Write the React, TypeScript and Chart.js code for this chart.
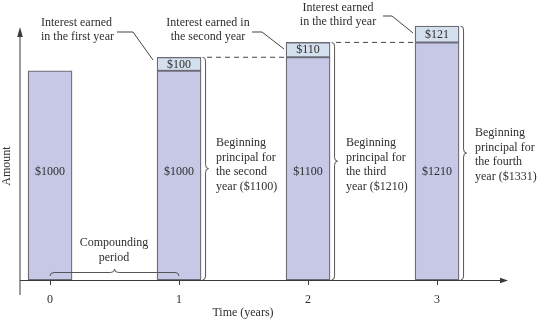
import React, { useEffect, useRef } from "react";
import { Chart, registerables } from "chart.js";

Chart.register(...registerables);

// ---- data ----
const years = [0, 1, 2, 3];
const principal = [1000, 1000, 1100, 1210];
const interest = [0, 100, 110, 121];
const xTicks = [0, 1, 2, 3];
const xAxisTitle = "Time (years)";
const yAxisTitle = "Amount";
const interestNotes = [
  ["Interest earned", "in the first year"],
  ["Interest earned in", "the second year"],
  ["Interest earned", "in the third year"],
];
const principalNotes = [
  ["Beginning", "principal for", "the second", "year ($1100)"],
  ["Beginning", "principal for", "the third", "year ($1210)"],
  ["Beginning", "principal for", "the fourth", "year ($1331)"],
];
const periodNote = ["Compounding", "period"];

// ---- scale / style constants ----
const Y_MIN = -550;
const Y_MAX = 1376;
const X_MIN = -0.233;
const X_MAX = 3.55;
const LABEL_VALUE = 250;
const FONT = '"Liberation Serif", "Times New Roman", serif';
const TEXT = "#2e2e2e";
const AXIS = "#3a3a3a";
const PRINCIPAL_FILL = "#c6c8e6";
const INTEREST_FILL = "#d5e0ef";
const BAR_BORDER = "#6c6c78";

function vBrace(ctx: CanvasRenderingContext2D, x: number, y1: number, y2: number, d: number) {
  const ym = (y1 + y2) / 2;
  const r = 4;
  const h = d / 2;
  ctx.beginPath();
  ctx.moveTo(x, y1);
  ctx.quadraticCurveTo(x + h, y1, x + h, y1 + r);
  ctx.lineTo(x + h, ym - r);
  ctx.quadraticCurveTo(x + h, ym, x + d, ym);
  ctx.quadraticCurveTo(x + h, ym, x + h, ym + r);
  ctx.lineTo(x + h, y2 - r);
  ctx.quadraticCurveTo(x + h, y2, x, y2);
  ctx.stroke();
}

function hBraceUp(ctx: CanvasRenderingContext2D, x1: number, x2: number, yb: number, d: number) {
  const xm = (x1 + x2) / 2;
  const r = 4;
  const h = d / 2;
  ctx.beginPath();
  ctx.moveTo(x1, yb);
  ctx.quadraticCurveTo(x1, yb - h, x1 + r, yb - h);
  ctx.lineTo(xm - r, yb - h);
  ctx.quadraticCurveTo(xm, yb - h, xm, yb - d);
  ctx.quadraticCurveTo(xm, yb - h, xm + r, yb - h);
  ctx.lineTo(x2 - r, yb - h);
  ctx.quadraticCurveTo(x2, yb - h, x2, yb);
  ctx.stroke();
}

const annotationPlugin = {
  id: "annotations",
  afterDatasetsDraw(chart: any) {
    const ctx: CanvasRenderingContext2D = chart.ctx;
    const area = chart.chartArea;
    const xs = chart.scales.x;
    const ys = chart.scales.y;
    const meta0 = chart.getDatasetMeta(0);
    const half = 22;
    ctx.save();

    // axes
    ctx.strokeStyle = AXIS;
    ctx.fillStyle = AXIS;
    ctx.lineWidth = 1;
    ctx.beginPath();
    ctx.moveTo(area.left, area.bottom + 15);
    ctx.lineTo(area.left, 34);
    ctx.moveTo(area.left, area.bottom + 0.5);
    ctx.lineTo(area.right - 5, area.bottom + 0.5);
    ctx.stroke();
    ctx.beginPath();
    ctx.moveTo(area.left, 27);
    ctx.lineTo(area.left - 2.8, 37);
    ctx.lineTo(area.left + 2.8, 37);
    ctx.closePath();
    ctx.fill();
    ctx.beginPath();
    ctx.moveTo(area.right, area.bottom + 0.5);
    ctx.lineTo(area.right - 8, area.bottom + 0.5 - 2.8);
    ctx.lineTo(area.right - 8, area.bottom + 0.5 + 2.8);
    ctx.closePath();
    ctx.fill();

    // bar value labels
    ctx.font = `12px ${FONT}`;
    ctx.fillStyle = TEXT;
    ctx.textAlign = "center";
    ctx.textBaseline = "middle";
    years.forEach((yr, i) => {
      const bx = meta0.data[i].x;
      ctx.fillText(`$${principal[i]}`, bx, ys.getPixelForValue(LABEL_VALUE));
      if (interest[i] > 0) {
        const yc = ys.getPixelForValue(principal[i] + interest[i] / 2);
        ctx.fillText(`$${interest[i]}`, bx, yc + 0.5);
      }
    });

    // dashed connectors
    ctx.strokeStyle = "#444";
    ctx.setLineDash([5, 4]);
    for (let i = 1; i < years.length - 1; i++) {
      const y = ys.getPixelForValue(principal[i] + interest[i]);
      const x1 = meta0.data[i].x + half + 6;
      const x2 = meta0.data[i + 1].x - half;
      ctx.beginPath();
      ctx.moveTo(x1, y);
      ctx.lineTo(x2, y);
      ctx.stroke();
    }
    ctx.setLineDash([]);

    // right braces
    ctx.strokeStyle = "#555";
    ctx.lineWidth = 1;
    for (let i = 1; i < years.length; i++) {
      const top = ys.getPixelForValue(principal[i] + interest[i]);
      const x = meta0.data[i].x + half + 1.5;
      vBrace(ctx, x, top, area.bottom, 6);
    }

    // compounding brace
    hBraceUp(ctx, xs.getPixelForValue(0), xs.getPixelForValue(1), 276, 7);

    // notes
    ctx.fillStyle = TEXT;
    ctx.font = `12px ${FONT}`;
    ctx.textBaseline = "middle";

    // interest notes
    ctx.textAlign = "left";
    ctx.fillText(interestNotes[0][0], 41, 23);
    ctx.fillText(interestNotes[0][1], 41, 37);
    ctx.textAlign = "center";
    ctx.fillText(interestNotes[1][0], 208, 23);
    ctx.fillText(interestNotes[1][1], 208, 37);
    ctx.fillText(interestNotes[2][0], 338, 8);
    ctx.fillText(interestNotes[2][1], 338, 22);

    // leader lines
    ctx.strokeStyle = "#444";
    ctx.beginPath();
    ctx.moveTo(117, 32);
    ctx.lineTo(133, 32);
    ctx.lineTo(153, 60);
    ctx.moveTo(252, 32);
    ctx.lineTo(262, 32);
    ctx.lineTo(284, 49);
    ctx.moveTo(383, 16);
    ctx.lineTo(392, 16);
    ctx.lineTo(413, 33);
    ctx.stroke();

    // principal notes
    ctx.textAlign = "left";
    const noteX = [216, 346, 475];
    const noteY = [143, 143, 133];
    principalNotes.forEach((lines, k) => {
      lines.forEach((ln, j) => ctx.fillText(ln, noteX[k], noteY[k] + j * 14.5));
    });

    // compounding period
    ctx.textAlign = "center";
    ctx.fillText(periodNote[0], 114, 243);
    ctx.fillText(periodNote[1], 114, 258);

    // axis titles
    ctx.fillText(xAxisTitle, 243, 313);
    ctx.save();
    ctx.translate(7, 166);
    ctx.rotate(-Math.PI / 2);
    ctx.fillText(yAxisTitle, 0, 0);
    ctx.restore();

    ctx.restore();
  },
};

export default function App() {
  const ref = useRef<HTMLCanvasElement>(null);
  useEffect(() => {
    const canvas = ref.current!;
    const chart = new Chart(canvas, {
      type: "bar",
      data: {
        datasets: [
          {
            label: "Principal",
            data: years.map((x, i) => ({ x, y: [Y_MIN, principal[i]] })) as any,
            backgroundColor: PRINCIPAL_FILL,
            borderColor: BAR_BORDER,
            borderWidth: 1.3,
            borderSkipped: false,
            grouped: false,
            barThickness: 44,
          },
          {
            label: "Interest",
            data: years
              .map((x, i) => ({ x, i }))
              .filter((d) => interest[d.i] > 0)
              .map((d) => ({ x: d.x, y: [principal[d.i], principal[d.i] + interest[d.i]] })) as any,
            backgroundColor: INTEREST_FILL,
            borderColor: BAR_BORDER,
            borderWidth: 1.3,
            borderSkipped: false,
            grouped: false,
            barThickness: 44,
          },
        ],
      },
      options: {
        responsive: false,
        animation: false,
        layout: { padding: { left: 20, right: 29, top: 20, bottom: 0 } },
        plugins: {
          legend: { display: false },
          tooltip: { enabled: false },
          title: { display: false },
        },
        scales: {
          x: {
            type: "linear",
            offset: false,
            min: X_MIN,
            max: X_MAX,
            afterBuildTicks: (s: any) => {
              s.ticks = xTicks.map((v) => ({ value: v }));
            },
            afterFit: (s: any) => {
              s.height = 40;
            },
            grid: { offset: false, drawOnChartArea: false, drawTicks: true, tickLength: 5, color: AXIS, lineWidth: 1 },
            border: { display: false },
            ticks: {
              font: { family: FONT, size: 12 },
              color: TEXT,
              padding: 8,
              callback: (v: any) => String(v),
            },
          },
          y: { display: false, min: Y_MIN, max: Y_MAX },
        },
      },
      plugins: [annotationPlugin],
    });
    return () => chart.destroy();
  }, []);
  return (
    <div style={{ position: "absolute", left: 0, top: 0, width: 537, height: 320, background: "#fff" }}>
      <canvas ref={ref} width={537} height={320} style={{ display: "block" }} />
    </div>
  );
}
